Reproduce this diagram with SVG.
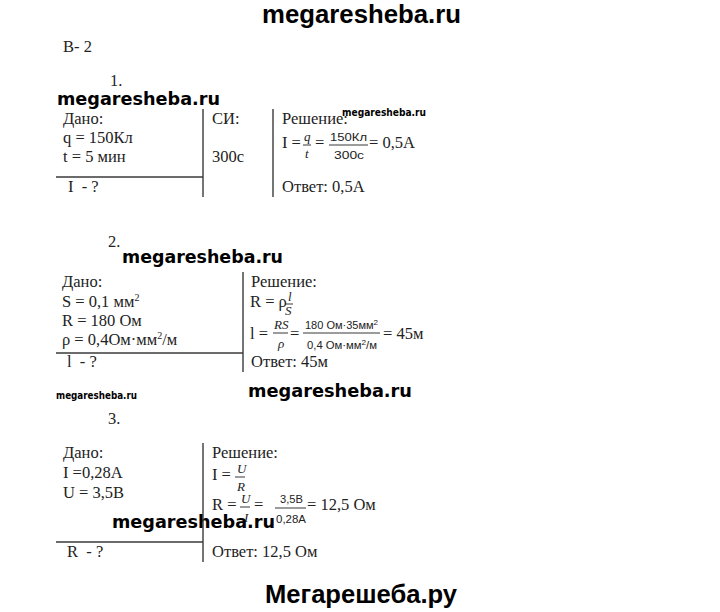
<svg xmlns="http://www.w3.org/2000/svg" width="720" height="612" viewBox="0 0 720 612">
<style>
.t{font-family:"Liberation Serif","Times New Roman",serif;font-size:16.5px;fill:#222;white-space:pre}
.i{font-family:"Liberation Serif","Times New Roman",serif;font-style:italic;font-size:13px;fill:#222}
.f{font-family:"Liberation Sans",Arial,sans-serif;font-size:11px;fill:#222}
.wm{font-family:"DejaVu Sans",Verdana,sans-serif;font-weight:bold;fill:#000}
.hd{font-family:"Liberation Sans",Arial,sans-serif;font-weight:bold;fill:#000}
.ln{stroke:#3a3a3a;stroke-width:1.4;fill:none}
.bar{stroke:#222;stroke-width:0.9;fill:none}
.sup{font-size:10px}
</style>
<rect width="720" height="612" fill="#fff"/>

<text class="hd" x="262" y="23" font-size="26" textLength="199" lengthAdjust="spacingAndGlyphs">megaresheba.ru</text>
<text class="t" x="63" y="52">В- 2</text>

<g id="task1">
  <text class="t" x="110" y="86" font-size="15">1.</text>
  <text class="t" x="63" y="124">Дано:</text>
  <text class="t" x="63" y="143">q = 150Кл</text>
  <text class="t" x="63" y="162">t = 5 мин</text>
  <text class="t" x="68" y="192">I  - ?</text>
  <text class="t" x="212" y="124">СИ:</text>
  <text class="t" x="212" y="162">300с</text>
  <text class="t" x="282" y="124">Решение:</text>
  <text class="t" x="282" y="148">I =</text>
  <text class="i" x="304" y="141">q</text>
  <text class="i" x="305" y="158">t</text>
  <text class="t" x="315" y="148">=</text>
  <text class="f" x="330" y="141" textLength="37" lengthAdjust="spacingAndGlyphs">150Кл</text>
  <text class="f" x="334" y="159" textLength="30" lengthAdjust="spacingAndGlyphs">300с</text>
  <text class="t" x="369" y="148">= 0,5А</text>
  <text class="t" x="282" y="192">Ответ: 0,5А</text>
  <text class="wm" x="57" y="105" font-size="18" textLength="163" lengthAdjust="spacingAndGlyphs">megaresheba.ru</text>
  <text class="wm" x="342" y="116" font-size="11" textLength="84" lengthAdjust="spacingAndGlyphs">megaresheba.ru</text>
</g>

<g id="task2">
  <text class="t" x="108" y="247" font-size="15">2.</text>
  <text class="wm" x="122" y="263" font-size="18" textLength="161" lengthAdjust="spacingAndGlyphs">megaresheba.ru</text>
  <text class="t" x="62" y="287">Дано:</text>
  <text class="t" x="62" y="307">S = 0,1 мм<tspan class="sup" dy="-6">2</tspan></text>
  <text class="t" x="62" y="326">R = 180 Ом</text>
  <text class="t" x="62" y="345">ρ = 0,4Ом·мм<tspan class="sup" dy="-6">2</tspan><tspan dy="6">/м</tspan></text>
  <text class="t" x="67" y="367">l  - ?</text>
  <text class="t" x="251" y="287">Решение:</text>
  <text class="t" x="250" y="307">R = ρ</text>
  <text class="i" x="288" y="301">l</text>
  <text class="i" x="285" y="315">S</text>
  <text class="t" x="250" y="339">l =</text>
  <text class="i" x="274" y="329">RS</text>
  <text class="i" x="278" y="348">ρ</text>
  <text class="t" x="290" y="339">=</text>
  <text class="f" x="305" y="329" textLength="73" lengthAdjust="spacingAndGlyphs">180 Ом·35мм<tspan dy="-4" font-size="8">2</tspan></text>
  <text class="f" x="307" y="349" textLength="70" lengthAdjust="spacingAndGlyphs">0,4 Ом·мм<tspan dy="-4" font-size="8">2</tspan><tspan dy="4">/м</tspan></text>
  <text class="t" x="383" y="339">= 45м</text>
  <text class="t" x="251" y="367">Ответ: 45м</text>
</g>

<g id="task3">
  <text class="wm" x="56" y="399" font-size="11" textLength="81" lengthAdjust="spacingAndGlyphs">megaresheba.ru</text>
  <text class="wm" x="248" y="397" font-size="18" textLength="164" lengthAdjust="spacingAndGlyphs">megaresheba.ru</text>
  <text class="t" x="108" y="424" font-size="15">3.</text>
  <text class="t" x="63" y="458">Дано:</text>
  <text class="t" x="63" y="478">I =0,28А</text>
  <text class="t" x="63" y="498">U = 3,5В</text>
  <text class="t" x="67" y="557">R  - ?</text>
  <text class="t" x="212" y="458">Решение:</text>
  <text class="t" x="212" y="480">I =</text>
  <text class="i" x="237" y="473">U</text>
  <text class="i" x="237" y="491">R</text>
  <text class="t" x="212" y="510">R =</text>
  <text class="i" x="241" y="503">U</text>
  <text class="i" x="244" y="522">I</text>
  <text class="t" x="254" y="510">=</text>
  <text class="f" x="280" y="503" textLength="23" lengthAdjust="spacingAndGlyphs">3,5В</text>
  <text class="f" x="276" y="523" textLength="30" lengthAdjust="spacingAndGlyphs">0,28А</text>
  <text class="t" x="307" y="510">= 12,5 Ом</text>
  <text class="t" x="212" y="557">Ответ: 12,5 Ом</text>
  <text class="wm" x="112" y="528" font-size="18" textLength="163" lengthAdjust="spacingAndGlyphs">megaresheba.ru</text>
</g>

<g id="connectors">
  <line class="ln" x1="56" y1="177" x2="203" y2="177"/>
  <line class="ln" x1="203" y1="109" x2="203" y2="197"/>
  <line class="ln" x1="273" y1="109" x2="273" y2="197"/>
  <line class="bar" x1="303" y1="145" x2="311" y2="145"/>
  <line class="bar" x1="329" y1="145" x2="368" y2="145"/>
  <line class="ln" x1="56" y1="353" x2="243" y2="353"/>
  <line class="ln" x1="243" y1="272" x2="243" y2="372"/>
  <line class="bar" x1="285" y1="304" x2="293" y2="304"/>
  <line class="bar" x1="273" y1="333" x2="288" y2="333"/>
  <line class="bar" x1="303" y1="333" x2="380" y2="333"/>
  <line class="ln" x1="203" y1="443" x2="203" y2="562"/>
  <line class="ln" x1="56" y1="542" x2="203" y2="542"/>
  <line class="bar" x1="235" y1="477" x2="245" y2="477"/>
  <line class="bar" x1="240" y1="507" x2="250" y2="507"/>
  <line class="bar" x1="275" y1="508" x2="306" y2="508"/>
</g>

<text class="hd" x="265" y="603" font-size="25" textLength="192" lengthAdjust="spacingAndGlyphs">Мегарешеба.ру</text>
</svg>
